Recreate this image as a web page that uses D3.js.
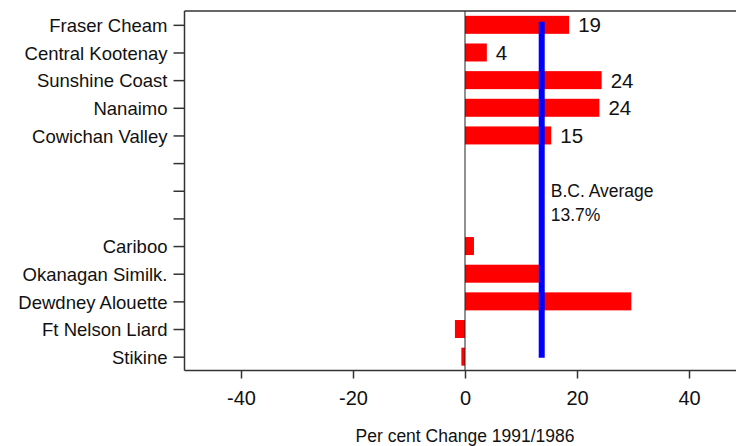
<!DOCTYPE html>
<html>
<head>
<meta charset="utf-8">
<script src="https://cdn.jsdelivr.net/npm/d3@7"></script>
<style>
  html, body { margin: 0; padding: 0; background: #fff; overflow: hidden; }
  svg { display: block; }
  text { font-family: "Liberation Sans", Arial, Helvetica, sans-serif; fill: #111; }
</style>
</head>
<body>
<svg id="chart" width="736" height="446"></svg>
<script>
// ---- data ----
const categories = ["Fraser Cheam", "Central Kootenay", "Sunshine Coast", "Nanaimo", "Cowichan Valley",
                    "", "", "",
                    "Cariboo", "Okanagan Similk.", "Dewdney Alouette", "Ft Nelson Liard", "Stikine"];
const values = [18.6, 3.9, 24.4, 24.0, 15.4, null, null, null, 1.6, 13.2, 29.7, -1.8, -0.65];
const valueLabels = ["19", "4", "24", "24", "15", "", "", "", "", "", "", "", ""];
const bcAverage = 13.7;
const averageLabel = ["B.C. Average", "13.7%"];
const xTicks = [-40, -20, 0, 20, 40];
const xTitle = "Per cent Change 1991/1986";

// ---- layout ----
const W = 736, H = 446;
const plotLeft = 184.5, plotTop = 11, plotBottom = 370.5;
const svg = d3.select("#chart");
const ids = categories.map((c, i) => i);

const x = d3.scaleLinear().domain([-50, 50]).range([185, 745]);
const y = d3.scalePoint().domain(ids).range([plotTop, plotBottom]).padding(0.5);
const barH = 18;

// bars
svg.append("g").selectAll("rect")
  .data(ids.filter(i => values[i] !== null))
  .join("rect")
  .attr("x", i => x(Math.min(0, values[i])))
  .attr("width", i => Math.abs(x(values[i]) - x(0)))
  .attr("y", i => y(i) - barH / 2)
  .attr("height", barH)
  .attr("fill", "#ff0000");

// zero line
svg.append("line")
  .attr("x1", x(0)).attr("x2", x(0))
  .attr("y1", plotTop).attr("y2", plotBottom)
  .attr("stroke", "#222").attr("stroke-width", 1);

// frame: top
svg.append("line")
  .attr("x1", plotLeft).attr("x2", W + 5)
  .attr("y1", plotTop).attr("y2", plotTop)
  .attr("stroke", "#333").attr("stroke-width", 1.5);

// y axis
const yAxis = d3.axisLeft(y).tickSize(11).tickPadding(6).tickFormat(i => categories[i]);
const gy = svg.append("g").attr("transform", `translate(${plotLeft},0)`).call(yAxis);
gy.select(".domain").attr("d", `M0,${plotTop}V${plotBottom}`).attr("stroke", "#333").attr("stroke-width", 1.5);
gy.selectAll(".tick line").attr("stroke", "#333").attr("stroke-width", 1.5);
gy.selectAll(".tick text").attr("font-size", 18.5).attr("fill", "#111")
  .attr("font-family", '"Liberation Sans", Arial, sans-serif').attr("dy", "0.36em");

// x axis
const xAxis = d3.axisBottom(x).tickValues(xTicks).tickSize(8).tickPadding(12).tickFormat(d => String(d));
const gx = svg.append("g").attr("transform", `translate(0,${plotBottom})`).call(xAxis);
gx.select(".domain").attr("d", `M${plotLeft},0H${W + 5}`).attr("stroke", "#333").attr("stroke-width", 1.5);
gx.selectAll(".tick line").attr("stroke", "#333").attr("stroke-width", 1.5);
gx.selectAll(".tick text").attr("font-size", 20).attr("fill", "#111")
  .attr("font-family", '"Liberation Sans", Arial, sans-serif');

// x title
svg.append("text")
  .attr("x", x(0)).attr("y", 442)
  .attr("text-anchor", "middle")
  .attr("font-size", 17.5)
  .text(xTitle);

// value labels
svg.append("g").selectAll("text")
  .data(ids.filter(i => valueLabels[i] !== ""))
  .join("text")
  .attr("x", i => x(values[i]) + 9)
  .attr("y", i => y(i))
  .attr("dy", "0.37em")
  .attr("font-size", 20.5)
  .text(i => valueLabels[i]);

// B.C. average line
svg.append("line")
  .attr("x1", x(bcAverage)).attr("x2", x(bcAverage))
  .attr("y1", y(0) - 3).attr("y2", y(ids.length - 1) + 1)
  .attr("stroke", "#0000ff").attr("stroke-width", 6);

svg.append("g").selectAll("text")
  .data(averageLabel)
  .join("text")
  .attr("x", x(bcAverage) + 9)
  .attr("y", (d, i) => 196.5 + i * 24)
  .attr("font-size", 17.5)
  .text(d => d);
</script>
</body>
</html>
